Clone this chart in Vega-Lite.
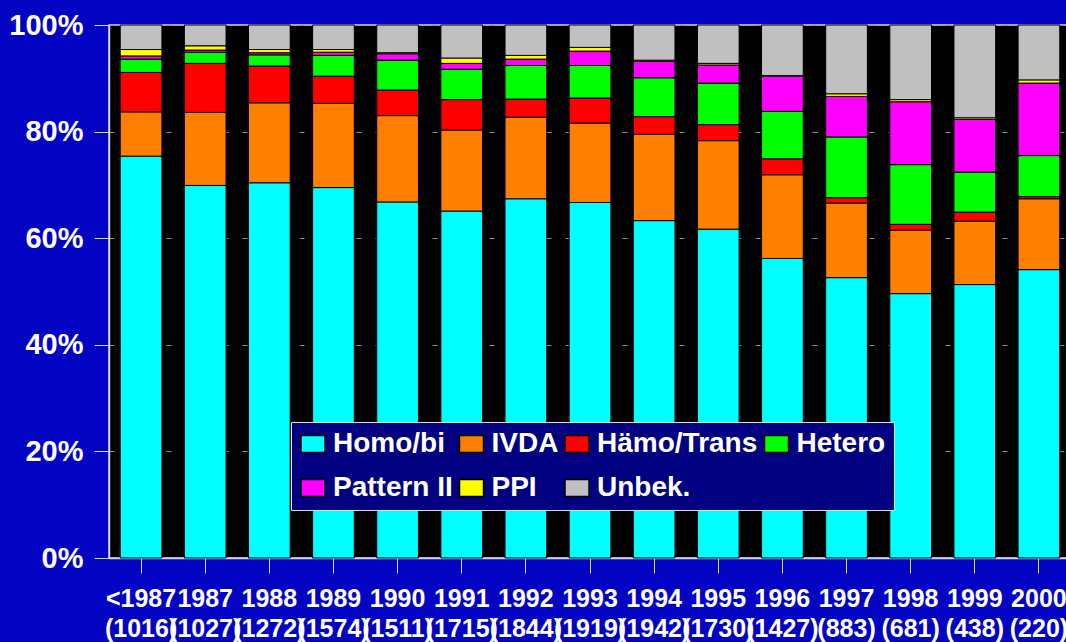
{
  "$schema": "https://vega.github.io/schema/vega-lite/v6.json",
  "width": 962,
  "height": 533,
  "autosize": {"type": "none"},
  "padding": {"left": 109, "top": 25, "right": 0, "bottom": 84},
  "background": "#0303C4",
  "config": {
    "view": {"fill": "#000000", "stroke": "#D8D8D8", "strokeWidth": 1.5},
    "font": "Liberation Sans"
  },
  "data": {
    "values": [
      {"period": "<1987 (1016)", "group": "Homo/bi", "k": 1, "pct": 75.4},
      {"period": "<1987 (1016)", "group": "IVDA", "k": 2, "pct": 8.3},
      {"period": "<1987 (1016)", "group": "Hämo/Trans", "k": 3, "pct": 7.4},
      {"period": "<1987 (1016)", "group": "Hetero", "k": 4, "pct": 2.5},
      {"period": "<1987 (1016)", "group": "Pattern II", "k": 5, "pct": 0.6},
      {"period": "<1987 (1016)", "group": "PPI", "k": 6, "pct": 1.2},
      {"period": "<1987 (1016)", "group": "Unbek.", "k": 7, "pct": 4.6},
      {"period": "1987 (1027)", "group": "Homo/bi", "k": 1, "pct": 69.9},
      {"period": "1987 (1027)", "group": "IVDA", "k": 2, "pct": 13.7},
      {"period": "1987 (1027)", "group": "Hämo/Trans", "k": 3, "pct": 9.2},
      {"period": "1987 (1027)", "group": "Hetero", "k": 4, "pct": 2.1},
      {"period": "1987 (1027)", "group": "Pattern II", "k": 5, "pct": 0.4},
      {"period": "1987 (1027)", "group": "PPI", "k": 6, "pct": 0.8},
      {"period": "1987 (1027)", "group": "Unbek.", "k": 7, "pct": 3.9},
      {"period": "1988 (1272)", "group": "Homo/bi", "k": 1, "pct": 70.4},
      {"period": "1988 (1272)", "group": "IVDA", "k": 2, "pct": 15.0},
      {"period": "1988 (1272)", "group": "Hämo/Trans", "k": 3, "pct": 6.9},
      {"period": "1988 (1272)", "group": "Hetero", "k": 4, "pct": 2.1},
      {"period": "1988 (1272)", "group": "Pattern II", "k": 5, "pct": 0.4},
      {"period": "1988 (1272)", "group": "PPI", "k": 6, "pct": 0.6},
      {"period": "1988 (1272)", "group": "Unbek.", "k": 7, "pct": 4.6},
      {"period": "1989 (1574)", "group": "Homo/bi", "k": 1, "pct": 69.5},
      {"period": "1989 (1574)", "group": "IVDA", "k": 2, "pct": 15.8},
      {"period": "1989 (1574)", "group": "Hämo/Trans", "k": 3, "pct": 5.1},
      {"period": "1989 (1574)", "group": "Hetero", "k": 4, "pct": 3.9},
      {"period": "1989 (1574)", "group": "Pattern II", "k": 5, "pct": 0.6},
      {"period": "1989 (1574)", "group": "PPI", "k": 6, "pct": 0.5},
      {"period": "1989 (1574)", "group": "Unbek.", "k": 7, "pct": 4.6},
      {"period": "1990 (1511)", "group": "Homo/bi", "k": 1, "pct": 66.8},
      {"period": "1990 (1511)", "group": "IVDA", "k": 2, "pct": 16.2},
      {"period": "1990 (1511)", "group": "Hämo/Trans", "k": 3, "pct": 4.8},
      {"period": "1990 (1511)", "group": "Hetero", "k": 4, "pct": 5.6},
      {"period": "1990 (1511)", "group": "Pattern II", "k": 5, "pct": 1.2},
      {"period": "1990 (1511)", "group": "PPI", "k": 6, "pct": 0.2},
      {"period": "1990 (1511)", "group": "Unbek.", "k": 7, "pct": 5.2},
      {"period": "1991 (1715)", "group": "Homo/bi", "k": 1, "pct": 65.1},
      {"period": "1991 (1715)", "group": "IVDA", "k": 2, "pct": 15.2},
      {"period": "1991 (1715)", "group": "Hämo/Trans", "k": 3, "pct": 5.7},
      {"period": "1991 (1715)", "group": "Hetero", "k": 4, "pct": 5.7},
      {"period": "1991 (1715)", "group": "Pattern II", "k": 5, "pct": 1.1},
      {"period": "1991 (1715)", "group": "PPI", "k": 6, "pct": 1.0},
      {"period": "1991 (1715)", "group": "Unbek.", "k": 7, "pct": 6.2},
      {"period": "1992 (1844)", "group": "Homo/bi", "k": 1, "pct": 67.4},
      {"period": "1992 (1844)", "group": "IVDA", "k": 2, "pct": 15.3},
      {"period": "1992 (1844)", "group": "Hämo/Trans", "k": 3, "pct": 3.4},
      {"period": "1992 (1844)", "group": "Hetero", "k": 4, "pct": 6.3},
      {"period": "1992 (1844)", "group": "Pattern II", "k": 5, "pct": 1.2},
      {"period": "1992 (1844)", "group": "PPI", "k": 6, "pct": 0.7},
      {"period": "1992 (1844)", "group": "Unbek.", "k": 7, "pct": 5.7},
      {"period": "1993 (1919)", "group": "Homo/bi", "k": 1, "pct": 66.7},
      {"period": "1993 (1919)", "group": "IVDA", "k": 2, "pct": 14.9},
      {"period": "1993 (1919)", "group": "Hämo/Trans", "k": 3, "pct": 4.7},
      {"period": "1993 (1919)", "group": "Hetero", "k": 4, "pct": 6.1},
      {"period": "1993 (1919)", "group": "Pattern II", "k": 5, "pct": 2.7},
      {"period": "1993 (1919)", "group": "PPI", "k": 6, "pct": 0.7},
      {"period": "1993 (1919)", "group": "Unbek.", "k": 7, "pct": 4.2},
      {"period": "1994 (1942)", "group": "Homo/bi", "k": 1, "pct": 63.3},
      {"period": "1994 (1942)", "group": "IVDA", "k": 2, "pct": 16.2},
      {"period": "1994 (1942)", "group": "Hämo/Trans", "k": 3, "pct": 3.3},
      {"period": "1994 (1942)", "group": "Hetero", "k": 4, "pct": 7.3},
      {"period": "1994 (1942)", "group": "Pattern II", "k": 5, "pct": 3.1},
      {"period": "1994 (1942)", "group": "PPI", "k": 6, "pct": 0.2},
      {"period": "1994 (1942)", "group": "Unbek.", "k": 7, "pct": 6.6},
      {"period": "1995 (1730)", "group": "Homo/bi", "k": 1, "pct": 61.7},
      {"period": "1995 (1730)", "group": "IVDA", "k": 2, "pct": 16.6},
      {"period": "1995 (1730)", "group": "Hämo/Trans", "k": 3, "pct": 3.0},
      {"period": "1995 (1730)", "group": "Hetero", "k": 4, "pct": 7.8},
      {"period": "1995 (1730)", "group": "Pattern II", "k": 5, "pct": 3.4},
      {"period": "1995 (1730)", "group": "PPI", "k": 6, "pct": 0.3},
      {"period": "1995 (1730)", "group": "Unbek.", "k": 7, "pct": 7.2},
      {"period": "1996 (1427)", "group": "Homo/bi", "k": 1, "pct": 56.2},
      {"period": "1996 (1427)", "group": "IVDA", "k": 2, "pct": 15.7},
      {"period": "1996 (1427)", "group": "Hämo/Trans", "k": 3, "pct": 3.0},
      {"period": "1996 (1427)", "group": "Hetero", "k": 4, "pct": 8.9},
      {"period": "1996 (1427)", "group": "Pattern II", "k": 5, "pct": 6.6},
      {"period": "1996 (1427)", "group": "PPI", "k": 6, "pct": 0.1},
      {"period": "1996 (1427)", "group": "Unbek.", "k": 7, "pct": 9.5},
      {"period": "1997 (883)", "group": "Homo/bi", "k": 1, "pct": 52.6},
      {"period": "1997 (883)", "group": "IVDA", "k": 2, "pct": 14.0},
      {"period": "1997 (883)", "group": "Hämo/Trans", "k": 3, "pct": 1.0},
      {"period": "1997 (883)", "group": "Hetero", "k": 4, "pct": 11.4},
      {"period": "1997 (883)", "group": "Pattern II", "k": 5, "pct": 7.6},
      {"period": "1997 (883)", "group": "PPI", "k": 6, "pct": 0.5},
      {"period": "1997 (883)", "group": "Unbek.", "k": 7, "pct": 12.9},
      {"period": "1998 (681)", "group": "Homo/bi", "k": 1, "pct": 49.6},
      {"period": "1998 (681)", "group": "IVDA", "k": 2, "pct": 11.9},
      {"period": "1998 (681)", "group": "Hämo/Trans", "k": 3, "pct": 1.1},
      {"period": "1998 (681)", "group": "Hetero", "k": 4, "pct": 11.2},
      {"period": "1998 (681)", "group": "Pattern II", "k": 5, "pct": 11.8},
      {"period": "1998 (681)", "group": "PPI", "k": 6, "pct": 0.4},
      {"period": "1998 (681)", "group": "Unbek.", "k": 7, "pct": 14.0},
      {"period": "1999 (438)", "group": "Homo/bi", "k": 1, "pct": 51.3},
      {"period": "1999 (438)", "group": "IVDA", "k": 2, "pct": 11.9},
      {"period": "1999 (438)", "group": "Hämo/Trans", "k": 3, "pct": 1.7},
      {"period": "1999 (438)", "group": "Hetero", "k": 4, "pct": 7.5},
      {"period": "1999 (438)", "group": "Pattern II", "k": 5, "pct": 9.9},
      {"period": "1999 (438)", "group": "PPI", "k": 6, "pct": 0.3},
      {"period": "1999 (438)", "group": "Unbek.", "k": 7, "pct": 17.4},
      {"period": "2000 (220)", "group": "Homo/bi", "k": 1, "pct": 54.1},
      {"period": "2000 (220)", "group": "IVDA", "k": 2, "pct": 13.3},
      {"period": "2000 (220)", "group": "Hämo/Trans", "k": 3, "pct": 0.4},
      {"period": "2000 (220)", "group": "Hetero", "k": 4, "pct": 7.7},
      {"period": "2000 (220)", "group": "Pattern II", "k": 5, "pct": 13.6},
      {"period": "2000 (220)", "group": "PPI", "k": 6, "pct": 0.6},
      {"period": "2000 (220)", "group": "Unbek.", "k": 7, "pct": 10.3}
    ]
  },
  "mark": {"type": "bar", "stroke": "#000000", "strokeWidth": 1},
  "encoding": {
    "x": {
      "field": "period",
      "type": "nominal",
      "sort": null,
      "scale": {"paddingInner": 0.35, "paddingOuter": 0.175},
      "axis": {
        "title": null,
        "labelAngle": 0,
        "labelExpr": "split(datum.value, ' ')",
        "labelFont": "Liberation Sans",
        "labelFontSize": 25,
        "labelFontWeight": "bold",
        "labelColor": "#FFFFFF",
        "labelLineHeight": 30,
        "labelPadding": 13,
        "labelOverlap": false,
        "labelBound": false,
        "labelLimit": 0,
        "tickSize": 15,
        "tickColor": "#D8D8D8",
        "tickWidth": 1,
        "domainColor": "#D8D8D8",
        "domainWidth": 1.5,
        "grid": false
      }
    },
    "y": {
      "field": "pct",
      "type": "quantitative",
      "stack": "normalize",
      "scale": {"domain": [0, 1]},
      "axis": {
        "title": null,
        "values": [0, 0.2, 0.4, 0.6, 0.8, 1],
        "format": ".0%",
        "labelFont": "Liberation Sans",
        "labelFontSize": 29,
        "labelFontWeight": "bold",
        "labelColor": "#FFFFFF",
        "labelPadding": 11,
        "tickSize": 15,
        "tickColor": "#D8D8D8",
        "domainColor": "#D8D8D8",
        "domainWidth": 1.5,
        "grid": true,
        "gridColor": "#909090",
        "gridDash": [5, 14],
        "gridWidth": 1
      }
    },
    "color": {
      "field": "group",
      "type": "nominal",
      "scale": {
        "domain": ["Homo/bi", "IVDA", "Hämo/Trans", "Hetero", "Pattern II", "PPI", "Unbek."],
        "range": ["#00FFFF", "#FF8000", "#FF0000", "#00FF00", "#FF00FF", "#FFFF00", "#C0C0C0"]
      },
      "legend": {
        "title": null,
        "orient": "none",
        "legendX": 182,
        "legendY": 397,
        "direction": "horizontal",
        "columns": 4,
        "columnPadding": 3.5,
        "rowPadding": 16,
        "padding": 8,
        "fillColor": "#000080",
        "strokeColor": "#E0E0E0",
        "labelFont": "Liberation Sans",
        "labelFontSize": 28,
        "labelFontWeight": "bold",
        "labelColor": "#FFFFFF",
        "labelLimit": 400,
        "labelOffset": 6,
        "symbolType": "M-1,-0.7H1V0.7H-1Z",
        "symbolSize": 576,
        "symbolStrokeColor": "#000000",
        "symbolStrokeWidth": 1.5,
        "symbolOpacity": 1
      }
    },
    "order": {"field": "k", "type": "quantitative"}
  }
}
